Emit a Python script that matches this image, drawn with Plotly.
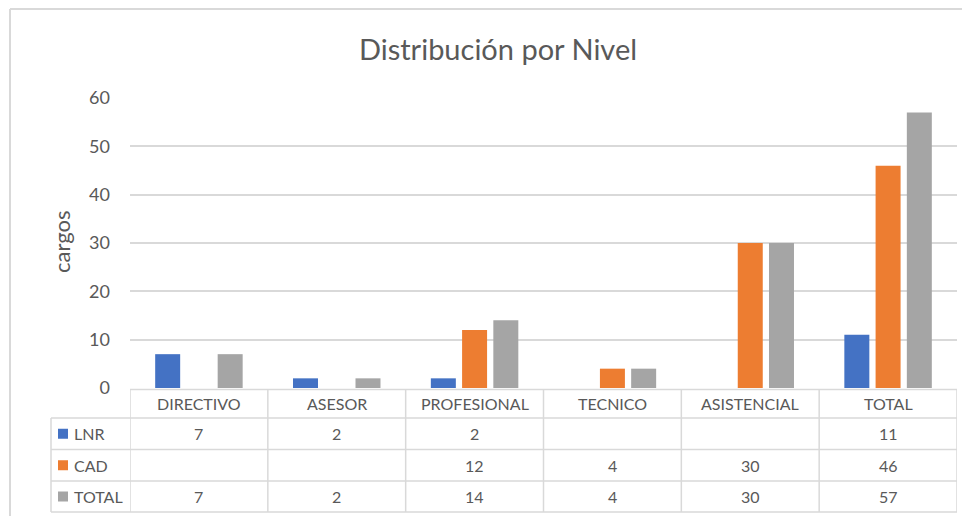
import plotly.graph_objects as go

# ---------------- data ----------------
categories = ["DIRECTIVO", "ASESOR", "PROFESIONAL", "TECNICO", "ASISTENCIAL", "TOTAL"]
series_names = ["LNR", "CAD", "TOTAL"]
lnr = [7, 2, 2, None, None, 11]
cad = [None, None, 12, 4, 30, 46]
total = [7, 2, 14, 4, 30, 57]
y_ticks = [0, 10, 20, 30, 40, 50, 60]

title_text = "Distribución por Nivel"
y_title = "cargos"

# ---------------- style ----------------
colors = ["#4472C4", "#ED7D31", "#A5A5A5"]
OFF = 8                      # page body margin
PAGE_W, PAGE_H = 970, 516
W, H = PAGE_W - OFF, PAGE_H - OFF
# plot area in page pixels: x 130..957, y 98..388
ML, MR, MT, MB = 130 - OFF, PAGE_W - 957, 98 - OFF, PAGE_H - 388
FONT = "Lato"
TXT = "#595959"
LINE = "#D9D9D9"

plot_h = H - MT - MB
plot_w = W - ML - MR


def py(pix):
    """page pixel row -> paper y"""
    return (PAGE_H - MB - pix) / plot_h


def px(pix):
    """page pixel column -> paper x"""
    return (pix - OFF - ML) / plot_w


fig = go.Figure()
for name, vals, col in zip(series_names, [lnr, cad, total], colors):
    fig.add_trace(go.Bar(x=categories, y=vals, name=name, marker_color=col,
                         marker_line_width=0, showlegend=False))

shapes = []
annotations = []

# chart border (top + left)
shapes.append(dict(type="line", xref="paper", yref="paper", x0=px(10), x1=px(975),
                   y0=py(9), y1=py(9), line=dict(color=LINE, width=2)))
shapes.append(dict(type="line", xref="paper", yref="paper", x0=px(10), x1=px(10),
                   y0=py(9), y1=py(520), line=dict(color=LINE, width=2)))

# data table
n = len(categories)
row_lines = [389.5, 418, 449.5, 481, 512]
label_left = 51
shapes.append(dict(type="line", xref="x", yref="paper", x0=-0.5, x1=n - 0.5,
                   y0=py(row_lines[0]), y1=py(row_lines[0]), line=dict(color=LINE, width=1.5)))
for r in row_lines[1:]:
    shapes.append(dict(type="line", xref="paper", yref="paper", x0=px(label_left), x1=1,
                       y0=py(r), y1=py(r), line=dict(color=LINE, width=1.5)))
for i in range(n + 1):
    shapes.append(dict(type="line", xref="x", yref="paper", x0=i - 0.5, x1=i - 0.5,
                       y0=py(row_lines[0]), y1=py(row_lines[-1]), line=dict(color=LINE, width=1.5)))
shapes.append(dict(type="line", xref="paper", yref="paper", x0=px(label_left), x1=px(label_left),
                   y0=py(row_lines[1]), y1=py(row_lines[-1]), line=dict(color=LINE, width=1.5)))

for c in categories:
    annotations.append(dict(x=c, xref="x", yref="paper", y=py((row_lines[0] + row_lines[1]) / 2),
                            text=c, showarrow=False, font=dict(family=FONT, size=16, color=TXT),
                            xanchor="center", yanchor="middle"))

for k, (name, vals, col) in enumerate(zip(series_names, [lnr, cad, total], colors)):
    yc = (row_lines[k + 1] + row_lines[k + 2]) / 2
    shapes.append(dict(type="rect", xref="paper", yref="paper", x0=px(58), x1=px(68),
                       y0=py(yc - 5), y1=py(yc + 5), fillcolor=col, line=dict(width=0)))
    annotations.append(dict(x=px(72), xref="paper", yref="paper", y=py(yc), text=name,
                            showarrow=False, xanchor="left", yanchor="middle",
                            font=dict(family=FONT, size=16, color=TXT)))
    for c, v in zip(categories, vals):
        if v is None:
            continue
        annotations.append(dict(x=c, xref="x", yref="paper", y=py(yc), text=str(v),
                                showarrow=False, xanchor="center", yanchor="middle",
                                font=dict(family=FONT, size=16, color=TXT)))

annotations.append(dict(x=px(61), xref="paper", yref="paper", y=py(242), text=y_title,
                        textangle=-90, showarrow=False, xanchor="center", yanchor="middle",
                        font=dict(family=FONT, size=22, color=TXT)))

fig.update_layout(
    width=W, height=H,
    margin=dict(l=ML, r=MR, t=MT, b=MB, pad=0),
    paper_bgcolor="white", plot_bgcolor="white",
    barmode="group", bargap=0.32, bargroupgap=0.2,
    title=dict(text=title_text, x=(498 - OFF) / W, xref="container", xanchor="center",
               y=1 - (50 - OFF) / H, yref="container", yanchor="middle",
               font=dict(family=FONT, size=29, color=TXT)),
    xaxis=dict(showticklabels=False, showgrid=False, zeroline=False, showline=False,
               ticks="", range=[-0.5, n - 0.5]),
    yaxis=dict(range=[0, 60], tickvals=y_ticks, showgrid=True, gridcolor=LINE, gridwidth=1.5,
               zeroline=False, showline=False, ticks="", ticklabelstandoff=19,
               tickfont=dict(family=FONT, size=18, color=TXT)),
    shapes=shapes,
    annotations=annotations,
    font=dict(family=FONT, color=TXT),
)

fig.write_html("out.html")
